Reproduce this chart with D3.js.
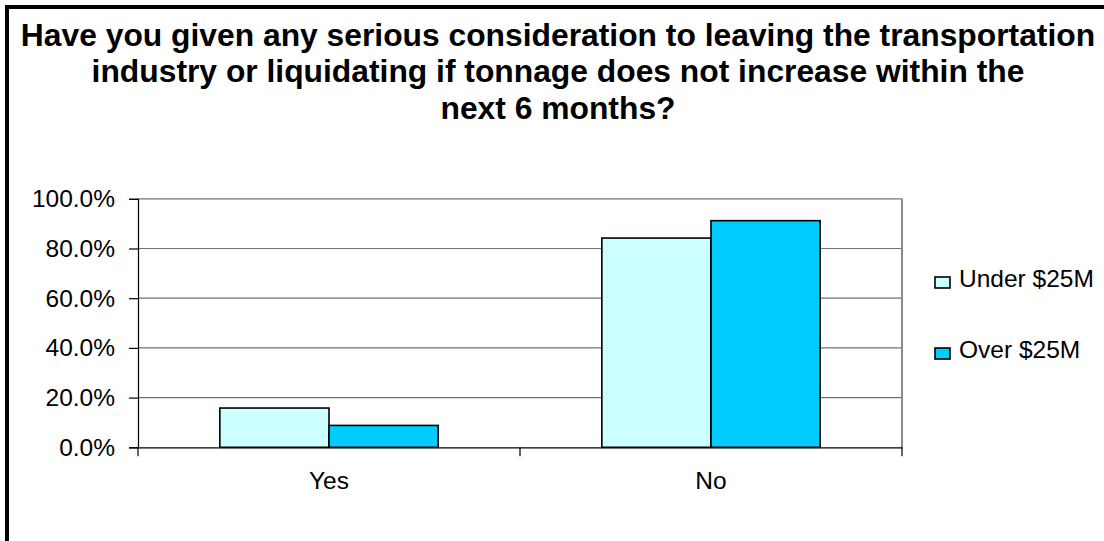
<!DOCTYPE html>
<html>
<head>
<meta charset="utf-8">
<script src="https://cdn.jsdelivr.net/npm/d3@7"></script>
<style>
  html, body { margin: 0; padding: 0; background: #fff; }
  svg { display: block; font-family: "Liberation Sans", Arial, sans-serif; }
</style>
</head>
<body>
<svg id="chart" width="1104" height="541"></svg>
<script>
// Survey answers by carrier size
const categories = ["Yes", "No"];
const seriesNames = ["Under $25M", "Over $25M"];
const underValues = [0.158, 0.842];
const overValues = [0.088, 0.912];
const yTicks = [0, 0.2, 0.4, 0.6, 0.8, 1.0];
const titleLines = [
  "Have you given any serious consideration to leaving the transportation",
  "industry or liquidating if tonnage does not increase within the",
  "next 6 months?"
];
const seriesColors = ["#CCFFFF", "#00CCFF"];

const svg = d3.select("#chart");
const W = 1104, H = 541;

// Outer chart frame (runs off the right and bottom edges)
svg.append("rect")
  .attr("x", 7).attr("y", 7)
  .attr("width", W + 20).attr("height", H + 20)
  .attr("fill", "#fff").attr("stroke", "#000").attr("stroke-width", 4);

// Title
svg.append("g").selectAll("text")
  .data(titleLines)
  .join("text")
  .attr("x", 558)
  .attr("y", (d, i) => 45.5 + i * 36.5)
  .attr("text-anchor", "middle")
  .attr("font-weight", "bold")
  .attr("font-size", 31.8)
  .attr("fill", "#000")
  .text(d => d);

const plot = { left: 138, right: 902, top: 198.8, bottom: 447.3 };

const x = d3.scaleBand().domain(categories).range([plot.left, plot.right]).padding(0);
const y = d3.scaleLinear().domain([0, 1]).range([plot.bottom, plot.top]);

// Gridlines
svg.append("g").selectAll("line")
  .data(yTicks.filter(t => t > 0))
  .join("line")
  .attr("x1", plot.left).attr("x2", plot.right)
  .attr("y1", d => y(d)).attr("y2", d => y(d))
  .attr("stroke", "#707070").attr("stroke-width", 1.2);

// Plot area right border
svg.append("line")
  .attr("x1", plot.right).attr("x2", plot.right)
  .attr("y1", plot.top).attr("y2", plot.bottom)
  .attr("stroke", "#8a8a8a").attr("stroke-width", 2);

// Bars
const barW = x.bandwidth() / 3.5;
const data = categories.map((c, i) => ({ c, vals: [underValues[i], overValues[i]] }));
const groups = svg.append("g").selectAll("g")
  .data(data)
  .join("g");
groups.selectAll("rect")
  .data(d => d.vals.map((v, j) => ({ c: d.c, v, j })))
  .join("rect")
  .attr("x", d => x(d.c) + x.bandwidth() / 2 - barW + d.j * barW)
  .attr("y", d => y(d.v))
  .attr("width", barW)
  .attr("height", d => y(0) - y(d.v))
  .attr("fill", d => seriesColors[d.j])
  .attr("stroke", "#000")
  .attr("stroke-width", 1.6);

// Y axis
const yAxis = d3.axisLeft(y)
  .tickValues(yTicks)
  .tickFormat(d => (d * 100).toFixed(1) + "%")
  .tickSize(9)
  .tickPadding(14);
const gy = svg.append("g").attr("transform", `translate(${plot.left},0)`).call(yAxis);
gy.select(".domain").attr("stroke", "#000").attr("stroke-width", 1.2);
gy.selectAll(".tick line").attr("stroke", "#000").attr("stroke-width", 1.2);
gy.selectAll(".tick text")
  .attr("font-size", 24.5)
  .attr("font-family", "Liberation Sans, Arial, sans-serif")
  .attr("fill", "#000");

// X axis with category boundary ticks
const xAxis = d3.axisBottom(x).tickSize(0).tickPadding(24);
const gx = svg.append("g").attr("transform", `translate(0,${plot.bottom})`).call(xAxis);
gx.select(".domain").attr("stroke", "#000").attr("stroke-width", 1.2);
gx.selectAll(".tick text")
  .attr("font-size", 24.5)
  .attr("font-family", "Liberation Sans, Arial, sans-serif")
  .attr("fill", "#000");
const boundaries = categories.map(c => x(c)).concat([x(categories[categories.length - 1]) + x.bandwidth()]);
gx.selectAll("line.sep")
  .data(boundaries)
  .join("line")
  .attr("class", "sep")
  .attr("x1", d => d).attr("x2", d => d)
  .attr("y1", 0).attr("y2", 9)
  .attr("stroke", "#000").attr("stroke-width", 1.2);

// Legend
const legend = svg.append("g");
const legendRows = legend.selectAll("g")
  .data(seriesNames)
  .join("g")
  .attr("transform", (d, i) => `translate(935,${277 + i * 71})`);
legendRows.append("rect")
  .attr("width", 15).attr("height", 11)
  .attr("fill", (d, i) => seriesColors[i])
  .attr("stroke", "#000").attr("stroke-width", 1.6);
legendRows.append("text")
  .attr("x", 24).attr("y", 10)
  .attr("font-size", 24.5)
  .attr("fill", "#000")
  .text(d => d);
</script>
</body>
</html>
